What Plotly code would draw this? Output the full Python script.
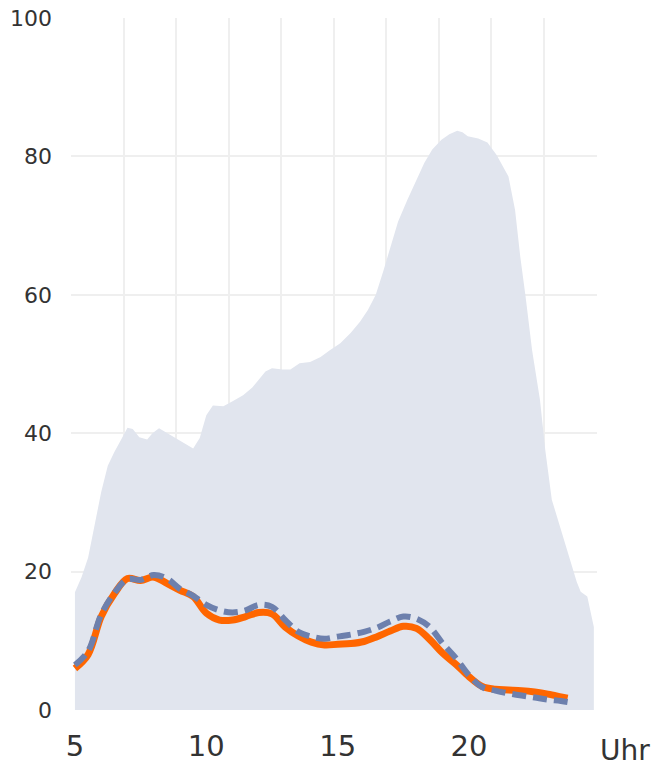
import plotly.graph_objects as go

# Hour of day (decimal) and values
area_hours = [5.0, 5.25, 5.5, 5.75, 6.0, 6.25, 6.5, 6.75, 7.0, 7.2, 7.45, 7.75, 7.95, 8.2,
              8.6, 9.0, 9.5, 9.75, 10.0, 10.25, 10.65, 11.0, 11.4, 11.75, 12.0, 12.25,
              12.5, 12.9, 13.2, 13.55, 13.95, 14.35, 14.7, 15.1, 15.5, 15.85, 16.15,
              16.45, 16.75, 17.0, 17.3, 17.65, 18.0, 18.3, 18.6, 18.95, 19.25, 19.55,
              19.75, 19.95, 20.35, 20.7, 21.05, 21.5, 21.75, 21.95, 22.15, 22.4, 22.7,
              22.9, 23.15, 23.5, 23.8, 24.1, 24.25, 24.5, 24.75]
area_values = [17.0, 19.2, 22.0, 26.5, 31.5, 35.3, 37.3, 39.0, 40.8, 40.6, 39.4, 39.1, 40.0,
               40.7, 39.8, 38.9, 37.8, 39.3, 42.6, 44.0, 43.9, 44.6, 45.5, 46.6, 47.7,
               48.9, 49.4, 49.2, 49.2, 50.1, 50.3, 51.0, 52.0, 53.0, 54.5, 56.1, 57.8,
               60.0, 63.6, 66.8, 70.6, 73.7, 76.6, 79.1, 81.0, 82.4, 83.2, 83.7, 83.5,
               82.9, 82.6, 82.0, 80.2, 77.1, 72.3, 65.5, 59.8, 52.0, 44.8, 37.6, 30.4,
               26.0, 22.4, 18.5, 17.1, 16.4, 12.0]

orange_hours = [5.0, 5.5, 6.0, 6.5, 7.0, 7.5, 8.0, 8.5, 9.0, 9.5, 10.0, 10.5, 11.0, 11.5,
                12.0, 12.5, 13.0, 13.5, 14.0, 14.5, 15.0, 15.5, 16.0, 16.5, 17.0, 17.5,
                18.0, 18.5, 19.0, 19.5, 20.0, 20.5, 21.0, 21.5, 22.0, 22.5, 23.0, 23.5,
                23.75]
orange_values = [6.0, 8.0, 13.5, 16.8, 19.0, 18.7, 19.2, 18.3, 17.3, 16.4, 14.0, 13.0, 13.0,
                 13.5, 14.1, 13.9, 12.0, 10.7, 9.8, 9.4, 9.5, 9.6, 9.9, 10.6, 11.4, 12.1,
                 11.8, 10.2, 8.2, 6.6, 4.8, 3.4, 3.0, 2.9, 2.8, 2.6, 2.3, 1.9, 1.7]

dashed_hours = [5.0, 5.5, 6.0, 6.5, 7.0, 7.5, 8.0, 8.5, 9.0, 9.5, 10.0, 10.5, 11.0, 11.5,
                12.0, 12.5, 13.0, 13.5, 14.0, 14.5, 15.0, 15.5, 16.0, 16.5, 17.0, 17.5,
                18.0, 18.5, 19.0, 19.5, 20.0, 20.5, 21.0, 21.5, 22.0, 22.5, 23.0, 23.5,
                24.0]
dashed_values = [6.5, 8.5, 13.8, 16.9, 18.9, 18.8, 19.5, 19.0, 17.5, 16.5, 15.2, 14.4, 14.1,
                 14.4, 15.2, 14.9, 13.0, 11.3, 10.6, 10.3, 10.6, 10.9, 11.3, 11.9, 12.8,
                 13.5, 13.2, 12.0, 9.6, 7.5, 5.0, 3.3, 2.8, 2.4, 2.1, 1.8, 1.5, 1.3, 1.0]

x_ticks = [5, 10, 15, 20]
y_ticks = [0, 20, 40, 60, 80, 100]

FONT = "DejaVu Sans"
TEXT = "#333333"
GRID = "#efefef"

fig = go.Figure()

fig.add_trace(go.Scatter(
    x=area_hours, y=area_values, mode="lines", fill="tozeroy",
    line=dict(width=0, color="#e1e5ee"), fillcolor="#e1e5ee",
    hoverinfo="skip", showlegend=False,
))
fig.add_trace(go.Scatter(
    x=orange_hours, y=orange_values, mode="lines",
    line=dict(color="#ff6600", width=7, shape="spline", smoothing=1.0),
    showlegend=False,
))
fig.add_trace(go.Scatter(
    x=dashed_hours, y=dashed_values, mode="lines",
    line=dict(color="#6d80ad", width=6, dash="14px,7px", shape="spline", smoothing=1.0),
    showlegend=False,
))

fig.update_layout(
    width=653, height=766,
    margin=dict(l=71, r=56, t=18, b=56),
    paper_bgcolor="white", plot_bgcolor="white",
    font=dict(family=FONT, color=TEXT),
    xaxis=dict(
        range=[4.85, 24.87], tickvals=x_ticks, ticktext=[str(v) for v in x_ticks],
        showgrid=False, zeroline=False, showline=False, automargin=False,
        tickfont=dict(size=29, family=FONT, color=TEXT),
        ticks="", ticklabelstandoff=16,
        minor=dict(tick0=4.85, dtick=2, showgrid=True, gridcolor=GRID, gridwidth=2),
    ),
    yaxis=dict(
        range=[0, 100], tickvals=y_ticks, automargin=False,
        showgrid=True, gridcolor=GRID, gridwidth=2, zeroline=False, showline=False,
        tickfont=dict(size=22, family=FONT, color=TEXT),
        ticks="", ticklabelstandoff=18,
    ),
    annotations=[dict(
        text="Uhr", xref="paper", yref="paper", x=1.0, y=-0.059,
        xanchor="left", yanchor="middle", xshift=2, showarrow=False, borderpad=0,
        font=dict(size=28, family=FONT, color=TEXT),
    )],
)

fig.write_html("out.html")
